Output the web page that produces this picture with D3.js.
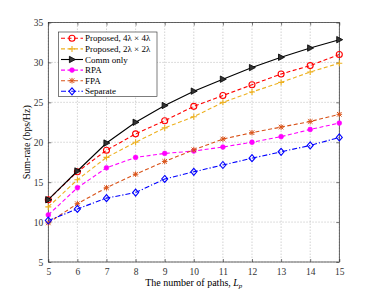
<!DOCTYPE html>
<html>
<head>
<meta charset="utf-8">
<script src="https://cdn.jsdelivr.net/npm/d3@7"></script>
<style>
  body { margin: 0; background: #fff; }
  svg { font-family: "Liberation Serif", "DejaVu Serif", serif; }
  .grid line { stroke: #c8c8c8; stroke-dasharray: 1.5,1.5; stroke-width: 0.8; }
</style>
</head>
<body>
<svg id="chart" width="374" height="295"></svg>
<script>
const paths = [5, 6, 7, 8, 9, 10, 11, 12, 13, 14, 15];
const proposed4 = [12.8, 16.3, 19.0, 21.05, 22.7, 24.5, 25.85, 27.2, 28.55, 29.6, 31.0];
const proposed2 = [11.9, 15.3, 18.1, 20.0, 21.8, 23.2, 25.0, 26.3, 27.5, 28.8, 29.9];
const commOnly = [12.8, 16.4, 19.9, 22.5, 24.6, 26.4, 27.9, 29.35, 30.65, 31.8, 32.85];
const rpa = [10.9, 14.3, 16.8, 18.1, 18.6, 18.9, 19.4, 20.0, 20.7, 21.6, 22.4];
const fpa = [9.9, 12.3, 14.3, 16.0, 17.6, 19.05, 20.4, 21.2, 21.9, 22.6, 23.5];
const separate = [10.2, 11.65, 13.0, 13.7, 15.4, 16.3, 17.15, 18.0, 18.8, 19.6, 20.6];
const yTicks = [5, 10, 15, 20, 25, 30, 35];

const series = [
  { name: "Proposed, 4\u03bb \u00d7 4\u03bb", values: proposed4, color: "#ff0000", dash: "4,2.5", marker: "circle" },
  { name: "Proposed, 2\u03bb \u00d7 2\u03bb", values: proposed2, color: "#edb120", dash: "4,2.5", marker: "plus" },
  { name: "Comm only", values: commOnly, color: "#000000", dash: null, marker: "tri" },
  { name: "RPA", values: rpa, color: "#ff00ff", dash: "4,2.5", marker: "dot" },
  { name: "FPA", values: fpa, color: "#d95319", dash: "4,2.5", marker: "star" },
  { name: "Separate", values: separate, color: "#0000ff", dash: "5,2,1.2,2", marker: "diamond" }
];

const svg = d3.select("#chart");
const m = { left: 48.3, right: 339.3, top: 22.5, bottom: 262 };

const x = d3.scaleLinear().domain([5, 15]).range([m.left, m.right]);
const y = d3.scaleLinear().domain([5, 35]).range([m.bottom, m.top]);

// grid
const grid = svg.append("g").attr("class", "grid");
grid.selectAll(".gx").data(paths).enter().append("line")
  .attr("x1", d => x(d)).attr("x2", d => x(d))
  .attr("y1", m.top).attr("y2", m.bottom);
grid.selectAll(".gy").data(yTicks).enter().append("line")
  .attr("x1", m.left).attr("x2", m.right)
  .attr("y1", d => y(d)).attr("y2", d => y(d));

// axes (MATLAB style: ticks inside, box all round)
const xAxis = d3.axisBottom(x).tickValues(paths).tickSizeInner(-3).tickSizeOuter(0).tickPadding(6);
const yAxis = d3.axisLeft(y).tickValues(yTicks).tickSizeInner(-3).tickSizeOuter(0).tickPadding(5);
const gx = svg.append("g").attr("transform", "translate(0," + m.bottom + ")").call(xAxis);
const gy = svg.append("g").attr("transform", "translate(" + m.left + ",0)").call(yAxis);
[gx, gy].forEach(g => {
  g.select(".domain").remove();
  g.selectAll("line").attr("stroke", "#262626").attr("stroke-width", 0.6);
  g.selectAll("text").attr("font-size", 9.5).attr("fill", "#333")
    .attr("font-family", "Liberation Serif, serif");
});
svg.append("g").attr("transform", "translate(" + m.right + ",0)")
  .call(d3.axisRight(y).tickValues(yTicks).tickSizeInner(-3).tickSizeOuter(0).tickFormat(""))
  .call(g => { g.select(".domain").remove(); g.selectAll("line").attr("stroke", "#262626").attr("stroke-width", 0.6); });
svg.append("g").attr("transform", "translate(0," + m.top + ")")
  .call(d3.axisTop(x).tickValues(paths).tickSizeInner(-3).tickSizeOuter(0).tickFormat(""))
  .call(g => { g.select(".domain").remove(); g.selectAll("line").attr("stroke", "#262626").attr("stroke-width", 0.6); });

svg.append("rect")
  .attr("x", m.left).attr("y", m.top)
  .attr("width", m.right - m.left).attr("height", m.bottom - m.top)
  .attr("fill", "none").attr("stroke", "#262626").attr("stroke-width", 0.7);

function drawMarker(g, type, color) {
  if (type === "circle") {
    g.append("circle").attr("r", 3).attr("fill", "none").attr("stroke", color).attr("stroke-width", 1.1);
  } else if (type === "plus") {
    g.append("path").attr("d", "M-3,0H3M0,-3V3").attr("stroke", color).attr("stroke-width", 1.1);
  } else if (type === "tri") {
    g.append("path").attr("d", "M-2.6,-3.2L3.4,0L-2.6,3.2Z").attr("fill", "#333").attr("stroke", color).attr("stroke-width", 0.8);
  } else if (type === "dot") {
    g.append("circle").attr("r", 2.4).attr("fill", color).attr("stroke", color).attr("stroke-width", 0.6);
  } else if (type === "star") {
    g.append("path").attr("d", "M-2.3,-2.3L2.3,2.3M-2.3,2.3L2.3,-2.3M-2.8,0H2.8M0,-2.8V2.8").attr("stroke", color).attr("stroke-width", 1);
  } else if (type === "diamond") {
    g.append("path").attr("d", "M0,-3.5L3,0L0,3.5L-3,0Z").attr("fill", "none").attr("stroke", color).attr("stroke-width", 1.1);
  }
}

const line = d3.line().x((d, i) => x(paths[i])).y(d => y(d));
const plot = svg.append("g");
series.forEach(s => {
  plot.append("path")
    .attr("d", line(s.values))
    .attr("fill", "none")
    .attr("stroke", s.color)
    .attr("stroke-width", 1.1)
    .attr("stroke-dasharray", s.dash);
  s.values.forEach((v, i) => {
    const g = plot.append("g").attr("transform", "translate(" + x(paths[i]) + "," + y(v) + ")");
    drawMarker(g, s.marker, s.color);
  });
});

// legend
const lg = svg.append("g");
lg.append("rect")
  .attr("x", 58.5).attr("y", 32).attr("width", 98.5).attr("height", 64.5)
  .attr("fill", "#fff").attr("stroke", "#262626").attr("stroke-width", 0.6);
series.forEach((s, i) => {
  const ly = 38.3 + i * 10.6;
  lg.append("line")
    .attr("x1", 61).attr("x2", 83).attr("y1", ly).attr("y2", ly)
    .attr("stroke", s.color).attr("stroke-width", 1.1)
    .attr("stroke-dasharray", s.dash);
  drawMarker(lg.append("g").attr("transform", "translate(72," + ly + ")"), s.marker, s.color);
  lg.append("text")
    .attr("x", 85).attr("y", ly).attr("dy", "0.35em")
    .attr("font-size", 9).attr("fill", "#000")
    .text(s.name);
});

// axis labels
svg.append("text")
  .attr("x", (m.left + m.right) / 2).attr("y", 286)
  .attr("text-anchor", "middle").attr("font-size", 10)
  .html('The number of paths, <tspan font-style="italic">L</tspan><tspan font-style="italic" font-size="7" dy="2">p</tspan>');
svg.append("text")
  .attr("transform", "translate(30," + (m.top + m.bottom) / 2 + ") rotate(-90)")
  .attr("text-anchor", "middle").attr("font-size", 10)
  .text("Sum-rate (bps/Hz)");
</script>
</body>
</html>
